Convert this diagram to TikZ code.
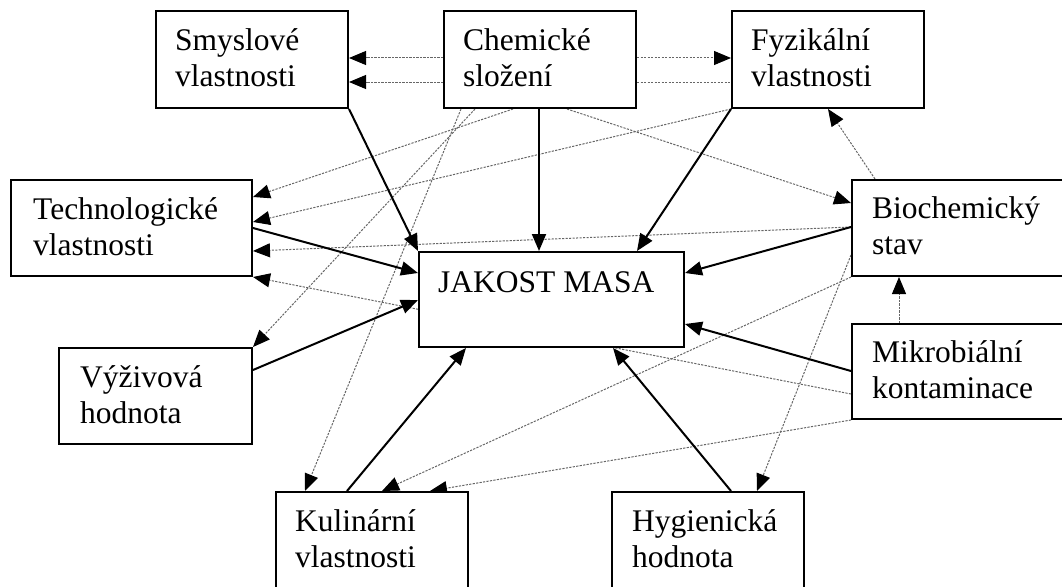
\documentclass[tikz,border=0pt]{standalone}
\usepackage{fontspec}
\setmainfont{Liberation Serif}
\usetikzlibrary{arrows.meta,backgrounds}
\begin{document}
\begin{tikzpicture}[x=1pt,y=-1pt,
 box/.style={draw=black,line width=2pt,fill=white,inner sep=0pt,anchor=north west},
 lbl/.style={font=\fontsize{31.5}{36}\selectfont,align=left,inner sep=0pt,anchor=north west},
 solidarrow/.style={draw=black,line width=2pt,-{Triangle[length=17pt,width=14pt]}},
 dotarrow/.style={draw=black!60,line width=1pt,dash pattern=on 2.2pt off 1.3pt,-{Triangle[length=17pt,width=14pt,color=black]}},
 dotline/.style={draw=black!60,line width=1pt,dash pattern=on 2.2pt off 1.3pt}]
\useasboundingbox (0,0) rectangle (1062,586);
% boxes
\node[box,minimum width=192pt,minimum height=97pt] (smy) at (155,10) {};
\node[box,minimum width=192pt,minimum height=97pt] (chem) at (443,10) {};
\node[box,minimum width=192pt,minimum height=97pt] (fyz) at (731,10) {};
\node[box,minimum width=241pt,minimum height=96pt] (tech) at (10,179) {};
\node[box,minimum width=265pt,minimum height=95pt] (jak) at (418,251) {};
\node[box,minimum width=230pt,minimum height=96pt] (bio) at (851,179) {};
\node[box,minimum width=230pt,minimum height=95pt] (mik) at (851,323) {};
\node[box,minimum width=193pt,minimum height=96pt] (vyz) at (58,347) {};
\node[box,minimum width=192pt,minimum height=120pt] (kul) at (275,491) {};
\node[box,minimum width=192pt,minimum height=120pt] (hyg) at (611,491) {};
% labels
\node[lbl] (smyT) at ([shift={(20pt,-15pt)}]smy.north west) {\strut Smyslové\\\strut vlastnosti};
\node[lbl] (chemT) at ([shift={(20pt,-15pt)}]chem.north west) {\strut Chemické\\\strut složení};
\node[lbl] (fyzT) at ([shift={(20pt,-15pt)}]fyz.north west) {\strut Fyzikální\\\strut vlastnosti};
\node[lbl] (techT) at ([shift={(23pt,-15pt)}]tech.north west) {\strut Technologické\\\strut vlastnosti};
\node[lbl] (jakT) at ([shift={(20pt,-16pt)}]jak.north west) {\strut JAKOST MASA};
\node[lbl] (bioT) at ([shift={(21pt,-14pt)}]bio.north west) {\strut Biochemický\\\strut stav};
\node[lbl] (mikT) at ([shift={(21pt,-14pt)}]mik.north west) {\strut Mikrobiální\\\strut kontaminace};
\node[lbl] (vyzT) at ([shift={(22pt,-15pt)}]vyz.north west) {\strut Výživová\\\strut hodnota};
\node[lbl] (kulT) at ([shift={(20pt,-15pt)}]kul.north west) {\strut Kulinární\\\strut vlastnosti};
\node[lbl] (hygT) at ([shift={(21pt,-15pt)}]hyg.north west) {\strut Hygienická\\\strut hodnota};
\begin{pgfonlayer}{background}
% dotted connectors
\draw[dotarrow] ([yshift=-48pt]chem.north west) -- ([yshift=-48pt]smy.north east);
\draw[dotarrow] ([yshift=-72pt]chem.north west) -- ([yshift=-72pt]smy.north east);
\draw[dotarrow] ([yshift=-48pt]chem.north east) -- ([yshift=-48pt]fyz.north west);
\draw[dotline] ([yshift=-72pt]chem.north east) -- ([yshift=-72pt]fyz.north west);
\draw[dotarrow] ([xshift=24pt]bio.north west) -- ([xshift=97pt]fyz.south west);
\draw[dotarrow] ([xshift=48pt]mik.north west) -- ([xshift=48pt]bio.south west);
\draw[dotarrow] ([xshift=124pt]chem.south west) -- ([yshift=-24pt]bio.north west);
\draw[dotarrow] (fyz.south west) -- ([yshift=-43pt]tech.north east);
\draw[dotarrow] ([xshift=70pt]chem.south west) -- ([yshift=-18pt]tech.north east);
\draw[dotarrow] ([yshift=-48pt]bio.north west) -- ([yshift=-72pt]tech.north east);
\draw[dotarrow] ([yshift=-71pt]mik.north west) -- (tech.south east);
\draw[dotarrow] ([xshift=32pt]chem.south west) -- (vyz.north east);
\draw[dotarrow] ([xshift=18pt]chem.south west) -- ([xshift=30pt]kul.north west);
\draw[dotarrow] (bio.south west) -- ([xshift=107pt]kul.north west);
\draw[dotarrow] (mik.south west) -- ([xshift=155pt]kul.north west);
\draw[dotarrow] ([yshift=-76pt]bio.north west) -- ([xshift=146pt]hyg.north west);
% solid connectors
\draw[solidarrow] (smy.south east) -- (jak.north west);
\draw[solidarrow] ([xshift=96pt]chem.south west) -- ([xshift=121pt]jak.north west);
\draw[solidarrow] (fyz.south west) -- ([xshift=219pt]jak.north west);
\draw[solidarrow] ([yshift=-49pt]tech.north east) -- ([yshift=-22pt]jak.north west);
\draw[solidarrow] ([yshift=-23pt]vyz.north east) -- ([yshift=-49pt]jak.north west);
\draw[solidarrow] ([yshift=-48pt]bio.north west) -- ([yshift=-22pt]jak.north east);
\draw[solidarrow] ([yshift=-48pt]mik.north west) -- ([yshift=-73pt]jak.north east);
\draw[solidarrow] ([xshift=72pt]kul.north west) -- ([xshift=48pt]jak.south west);
\draw[solidarrow] ([xshift=120pt]hyg.north west) -- ([xshift=195pt]jak.south west);
\end{pgfonlayer}
\end{tikzpicture}
\end{document}
